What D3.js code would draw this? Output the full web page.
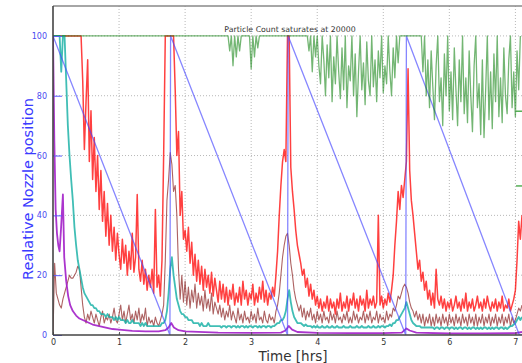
<!DOCTYPE html>
<html>
<head>
<meta charset="utf-8">
<script src="https://cdn.jsdelivr.net/npm/d3@7"></script>
<style>
html, body { margin: 0; padding: 0; background: #fff; }
svg { display: block; font-family: "DejaVu Sans", sans-serif; }
</style>
</head>
<body>
<svg id="chart" width="522" height="363"></svg>
<script>
const STEP = 0.025; // hours between samples of the sampled series

const xTicks = [0, 1, 2, 3, 4, 5, 6, 7];
const yTicks = [0, 20, 40, 60, 80, 100];
const countTicks = [50, 75]; // right-hand particle count ticks
const saturation = 100;

// nozzle position (sawtooth), [hours, %]
const nozzle = [
	[0, 100], [1.77, 0], [1.78, 100], [3.55, 0], [3.56, 100],
	[5.34, 0], [5.35, 100], [7.06, 0], [7.1, 0],
];

// red channel, sampled every STEP from t = 0
const redVals = [
	100, 100, 100, 100, 100, 100, 100, 100, 100, 100, // 0.00
	100, 100, 100, 100, 100, 100, 100, 100, 85, 62,    // 0.25
	78, 92, 58, 75, 52, 66, 48, 60, 42, 55,             // 0.50
	38, 48, 33, 44, 30, 40, 28, 36, 25, 34,             // 0.75
	27, 22, 32, 24, 30, 20, 28, 22, 34, 21,             // 1.00
	26, 47, 22, 18, 25, 17, 22, 15, 20, 16,             // 1.25
	22, 14, 42, 16, 20, 13, 25, 60, 100, 100,           // 1.50
	100, 100, 100, 100, 82, 60, 68, 40, 48, 32,         // 1.75
	35, 28, 36, 24, 31, 20, 27, 18, 25, 17,             // 2.00
	23, 15, 22, 16, 20, 14, 21, 13, 19, 15,             // 2.25
	11, 18, 12, 17, 11, 16, 10, 15, 12, 17,             // 2.50
	10, 14, 11, 16, 10, 18, 12, 15, 10, 14,             // 2.75
	12, 17, 10, 14, 11, 16, 12, 18, 11, 15,             // 3.00
	10, 14, 12, 16, 13, 20, 28, 40, 50, 58,             // 3.25
	62, 58, 100, 100, 56, 48, 42, 35, 30, 27,           // 3.50
	24, 20, 22, 16, 19, 13, 17, 12, 15, 10,             // 3.75
	13, 9, 12, 8, 11, 9, 13, 8, 12, 9,                  // 4.00
	11, 7, 12, 9, 14, 8, 11, 9, 13, 8,                  // 4.25
	12, 10, 14, 9, 12, 8, 13, 10, 12, 8,                // 4.50
	15, 9, 12, 10, 13, 9, 11, 40, 10, 13,               // 4.75
	9, 12, 10, 14, 11, 15, 20, 30, 38, 48,              // 5.00
	42, 50, 46, 52, 58, 89, 55, 45, 40, 34,             // 5.25
	28, 22, 25, 18, 21, 15, 18, 12, 15, 10,             // 5.50
	14, 9, 22, 12, 10, 13, 9, 12, 8, 11,                // 5.75
	9, 12, 8, 10, 13, 9, 11, 8, 12, 9,                  // 6.00
	14, 8, 11, 9, 12, 8, 10, 13, 9, 11,                 // 6.25
	8, 12, 9, 13, 10, 8, 11, 9, 12, 8,                  // 6.50
	11, 9, 13, 8, 10, 9, 12, 8, 10, 12,                 // 6.75
	15, 25, 38, 32, 40,                                 // 7.00
];

// dark red channel
const brownVals = [
	0, 24, 14, 12, 10, 9, 12, 14, 16, 18,     // 0.00
	20, 19, 19, 20, 21, 23, 22, 16, 10, 6,    // 0.25
	4, 7, 5, 8, 6, 4, 7, 5, 3, 6,             // 0.50
	8, 4, 6, 5, 7, 4, 6, 9, 5, 4,             // 0.75
	7, 10, 5, 8, 4, 7, 10, 5, 7, 4,           // 1.00
	8, 5, 9, 4, 7, 5, 9, 3, 6, 4,             // 1.25
	5, 3, 6, 4, 3, 5, 7, 10, 25, 45,          // 1.50
	52, 61, 57, 48, 50, 40, 22, 12, 20, 11,   // 1.75
	18, 10, 16, 9, 15, 11, 17, 9, 14, 10,     // 2.00
	13, 8, 15, 9, 12, 8, 14, 7, 11, 9,        // 2.25
	7, 10, 6, 9, 5, 8, 6, 10, 5, 8,           // 2.50
	6, 4, 9, 5, 7, 4, 8, 5, 6, 4,             // 2.75
	8, 5, 7, 4, 9, 5, 6, 4, 8, 5,             // 3.00
	4, 7, 5, 6, 4, 8, 10, 14, 20, 26,         // 3.25
	30, 33, 34, 30, 24, 20, 15, 12, 10, 8,    // 3.50
	10, 6, 9, 5, 8, 6, 9, 5, 7, 4,            // 3.75
	8, 5, 7, 4, 8, 5, 6, 4, 8, 5,             // 4.00
	7, 4, 8, 5, 6, 4, 7, 5, 8, 4,             // 4.25
	6, 4, 8, 5, 7, 4, 6, 5, 8, 4,             // 4.50
	7, 5, 8, 4, 6, 5, 8, 4, 7, 5,             // 4.75
	6, 4, 8, 5, 7, 6, 9, 8, 10, 13,           // 5.00
	12, 14, 16, 17, 16, 14, 11, 9, 8, 6,      // 5.25
	8, 5, 7, 4, 7, 3, 6, 4, 7, 3,             // 5.50
	6, 3, 7, 4, 6, 3, 7, 4, 6, 3,             // 5.75
	7, 4, 6, 3, 7, 4, 6, 3, 7, 4,             // 6.00
	6, 3, 7, 4, 6, 3, 7, 3, 6, 4,             // 6.25
	7, 3, 6, 4, 7, 3, 6, 4, 7, 3,             // 6.50
	6, 4, 7, 3, 6, 4, 7, 3, 6, 4,             // 6.75
	5, 7, 9, 8, 10,                           // 7.00
];

// cyan channel
const tealVals = [
	100, 100, 100, 100, 100, 88, 100, 100, 85, 70,       // 0.00
	60, 52, 45, 36, 30, 25, 22, 19, 16, 14,              // 0.25
	13, 12, 11, 10, 10, 9, 9, 8, 8, 7,                   // 0.50
	7, 7, 6, 7, 6, 6, 6, 5, 6, 5,                        // 0.75
	6, 5, 5, 5, 4, 5, 4, 4, 5, 4,                        // 1.00
	4, 4, 4, 3, 4, 3, 4, 3, 3, 3,                        // 1.25
	3, 3, 3, 3, 3, 3, 4, 4, 5, 8,                        // 1.50
	14, 22, 26, 20, 16, 12, 10, 8, 7, 7,                 // 1.75
	6, 6, 5, 5, 5, 4, 4, 4, 4, 3,                        // 2.00
	4, 3, 3, 3, 4, 3, 3, 3, 3, 3,                        // 2.25
	3, 3, 2.5, 3, 3, 2.5, 3, 3, 2.5, 3,                  // 2.50
	3, 2.5, 3, 2.5, 3, 3, 2.5, 3, 2.5, 3,                // 2.75
	3, 2.5, 3, 3, 2.5, 3, 2.5, 3, 3, 2.5,                // 3.00
	3, 3, 2.5, 3, 3, 3.5, 4, 4, 5, 5,                    // 3.25
	6, 8, 12, 15, 11, 8, 6, 5, 4, 4,                     // 3.50
	4, 3.5, 3, 3.5, 3, 3, 3, 2.5, 3, 2.5,                // 3.75
	3, 2.5, 2.5, 3, 2.5, 2.5, 3, 2.5, 2.5, 3,            // 4.00
	2.5, 2.5, 3, 2.5, 2.5, 2.5, 3, 2.5, 2.5, 2.5,        // 4.25
	3, 2.5, 2.5, 2.5, 3, 2.5, 2.5, 3, 2.5, 2.5,          // 4.50
	2.5, 3, 2.5, 2.5, 3, 2.5, 2.5, 3, 2.5, 3,            // 4.75
	3, 2.5, 3, 3, 3.5, 3, 4, 4, 5, 5,                    // 5.00
	6, 7, 8, 9, 11, 9, 7, 5, 4, 3.5,                     // 5.25
	3, 3, 3, 2.5, 2.5, 2.5, 2.5, 2.5, 2.5, 2.5,          // 5.50
	2.5, 2, 2.5, 2.5, 2, 2.5, 2.5, 2, 2.5, 2.5,          // 5.75
	2, 2.5, 2.5, 2, 2.5, 2, 2.5, 2.5, 2, 2.5,            // 6.00
	2.5, 2, 2.5, 2, 2.5, 2.5, 2, 2.5, 2, 2.5,            // 6.25
	2, 2.5, 2.5, 2, 2.5, 2, 2.5, 2, 2.5, 2.5,            // 6.50
	2, 2.5, 2.5, 2, 2.5, 2, 2.5, 3, 3, 3.5,              // 6.75
	4, 5, 6, 5, 6,                                       // 7.00
];

// violet channel, [hours, %]
const purple = [
	[0, 100], [0.02, 65], [0.04, 42], [0.06, 34], [0.08, 30], [0.1, 28],
	[0.12, 35], [0.15, 47], [0.17, 26], [0.2, 18], [0.23, 13], [0.26, 10],
	[0.3, 8], [0.35, 6.5], [0.4, 5.5], [0.5, 4.5], [0.6, 3.5], [0.7, 3],
	[0.8, 2.5], [0.9, 2], [1.0, 1.8], [1.2, 1.4], [1.4, 1.2], [1.6, 1.2],
	[1.7, 1.6], [1.75, 2.5], [1.79, 4], [1.83, 2.5], [1.9, 1.6], [2.0, 1.2],
	[2.5, 0.8], [3.0, 0.7], [3.45, 0.8], [3.52, 1.5], [3.57, 3], [3.62, 1.8],
	[3.7, 1], [4.0, 0.7], [4.5, 0.6], [5.0, 0.6], [5.28, 0.8], [5.35, 2.2],
	[5.4, 1.5], [5.5, 0.8], [6.0, 0.5], [6.5, 0.5], [7.0, 0.6], [7.1, 1],
];

// particle count (% of 20000), flat at saturation until greenStart, then sampled every STEP
const greenStart = 2.55;
const greenVals = [
	100, 100, 100, 100, 100, 95, 100, 90, 100, 93,      // 2.55
	100, 95, 100, 100, 100, 100, 100, 100, 89, 100,     // 2.80
	93, 100, 96, 100, 100, 100, 100, 100, 100, 100,     // 3.05
	100, 100, 100, 100, 100, 100, 100, 100, 100, 100,   // 3.30
	100, 100, 100, 100, 100, 100, 100, 100, 100, 100,   // 3.55
	100, 100, 100, 95, 100, 88, 100, 93, 100, 90,       // 3.80
	84, 100, 92, 80, 97, 86, 100, 78, 93, 84,           // 4.05
	100, 88, 79, 96, 82, 100, 76, 90, 85, 100,          // 4.30
	80, 94, 73, 88, 100, 82, 91, 77, 98, 85,            // 4.55
	80, 100, 83, 92, 78, 95, 86, 100, 81, 90,           // 4.80
	84, 100, 88, 80, 96, 86, 100, 91, 100, 100,         // 5.05
	100, 100, 100, 100, 100, 100, 100, 100, 100, 100,   // 5.30
	100, 100, 88, 100, 80, 92, 76, 95, 83, 72,          // 5.55
	90, 100, 78, 86, 70, 94, 80, 100, 75, 88,           // 5.80
	72, 96, 82, 70, 92, 78, 100, 74, 86, 71,            // 6.05
	95, 80, 68, 90, 100, 76, 84, 67, 92, 66,            // 6.30
	82, 100, 72, 88, 69, 94, 78, 100, 73, 86,           // 6.55
	71, 96, 80, 74, 92, 100, 76, 88, 73, 95,            // 6.80
	82, 100,                                            // 7.05
];

const svg = d3.select("#chart");
const W = 522, H = 363;
const plot = {left: 53, top: 6, bottom: 335};

const x = d3.scaleLinear().domain([0, 7.1]).range([plot.left, W]);
const y = d3.scaleLinear().domain([0, 110]).range([plot.bottom, plot.top]);

svg.append("defs").append("clipPath").attr("id", "clip")
	.append("rect")
	.attr("x", plot.left).attr("y", plot.top)
	.attr("width", W - plot.left).attr("height", plot.bottom - plot.top);

// grid
const grid = svg.append("g").attr("stroke", "#b8b8b8").attr("stroke-width", 1).attr("stroke-dasharray", "1,2");
grid.selectAll(".gx").data(xTicks.slice(1)).join("line")
	.attr("x1", d => x(d)).attr("x2", d => x(d))
	.attr("y1", plot.top).attr("y2", plot.bottom);
grid.selectAll(".gy").data(yTicks.slice(1)).join("line")
	.attr("x1", plot.left).attr("x2", W)
	.attr("y1", d => y(d)).attr("y2", d => y(d));

const sampled = (vals, t0 = 0) => vals.map((v, i) => ({t: t0 + i * STEP, v}));
const paired = arr => arr.map(([t, v]) => ({t, v}));
const line = d3.line().x(d => x(d.t)).y(d => y(d.v));

const series = [
	{data: sampled(redVals), color: "#ff0000", width: 1.5, opacity: 0.75},
	{data: sampled(brownVals), color: "#8a1f1f", width: 1.1, opacity: 0.7},
	{data: sampled(tealVals), color: "#1fb3a8", width: 1.8, opacity: 0.85},
	{data: paired(purple), color: "#a21fc8", width: 1.8, opacity: 0.9},
	{data: paired(nozzle), color: "#4545ff", width: 1.3, opacity: 0.65},
	{data: [{t: 0, v: saturation}, ...sampled(greenVals, greenStart)], color: "#007a00", width: 1.3, opacity: 0.55},
];

const lines = svg.append("g").attr("clip-path", "url(#clip)");
for (const s of series) {
	lines.append("path")
		.datum(s.data)
		.attr("d", line)
		.attr("fill", "none")
		.attr("stroke", s.color)
		.attr("stroke-width", s.width)
		.attr("stroke-opacity", s.opacity)
		.attr("stroke-linejoin", "round");
}

// axes
const yAxis = svg.append("g")
	.attr("transform", `translate(${plot.left},0)`)
	.call(d3.axisLeft(y).tickValues(yTicks).tickSize(-9).tickPadding(6));
yAxis.select(".domain").remove();
yAxis.selectAll(".tick line").attr("stroke", "#5a5aff");
yAxis.selectAll(".tick text").attr("fill", "#4a4af0").attr("font-size", 8).attr("font-family", "DejaVu Sans");

const xAxis = svg.append("g")
	.attr("transform", `translate(0,${plot.bottom})`)
	.call(d3.axisBottom(x).tickValues(xTicks).tickSize(-3).tickPadding(4).tickFormat(d3.format("d")));
xAxis.select(".domain").remove();
xAxis.selectAll(".tick line").attr("stroke", "#555");
xAxis.selectAll(".tick text").attr("fill", "#333").attr("font-size", 8).attr("font-family", "DejaVu Sans");

const countAxis = svg.append("g")
	.attr("transform", `translate(${W},0)`)
	.call(d3.axisLeft(y).tickValues(countTicks).tickSize(6).tickFormat(""));
countAxis.select(".domain").remove();
countAxis.selectAll(".tick line").attr("stroke", "#2a9a2a").attr("stroke-width", 1.2);

// frame
svg.append("line").attr("x1", plot.left).attr("x2", W).attr("y1", plot.top).attr("y2", plot.top)
	.attr("stroke", "#888").attr("stroke-width", 1.6);
svg.append("line").attr("x1", plot.left).attr("x2", W).attr("y1", plot.bottom).attr("y2", plot.bottom)
	.attr("stroke", "#444").attr("stroke-width", 1.4);
svg.append("line").attr("x1", plot.left).attr("x2", plot.left).attr("y1", plot.top).attr("y2", plot.bottom)
	.attr("stroke", "#444").attr("stroke-width", 1.6);

// labels
svg.append("text")
	.attr("x", 290).attr("y", 32)
	.attr("text-anchor", "middle")
	.attr("font-size", 7.8)
	.attr("fill", "#333")
	.text("Particle Count saturates at 20000");

svg.append("text")
	.attr("x", 293).attr("y", 360.5)
	.attr("text-anchor", "middle")
	.attr("font-size", 13.5)
	.attr("fill", "#333")
	.text("Time [hrs]");

svg.append("text")
	.attr("transform", "rotate(-90)")
	.attr("x", -189).attr("y", 33)
	.attr("text-anchor", "middle")
	.attr("font-size", 14.5)
	.attr("fill", "#3b3bff")
	.text("Realative Nozzle position");
</script>
</body>
</html>
